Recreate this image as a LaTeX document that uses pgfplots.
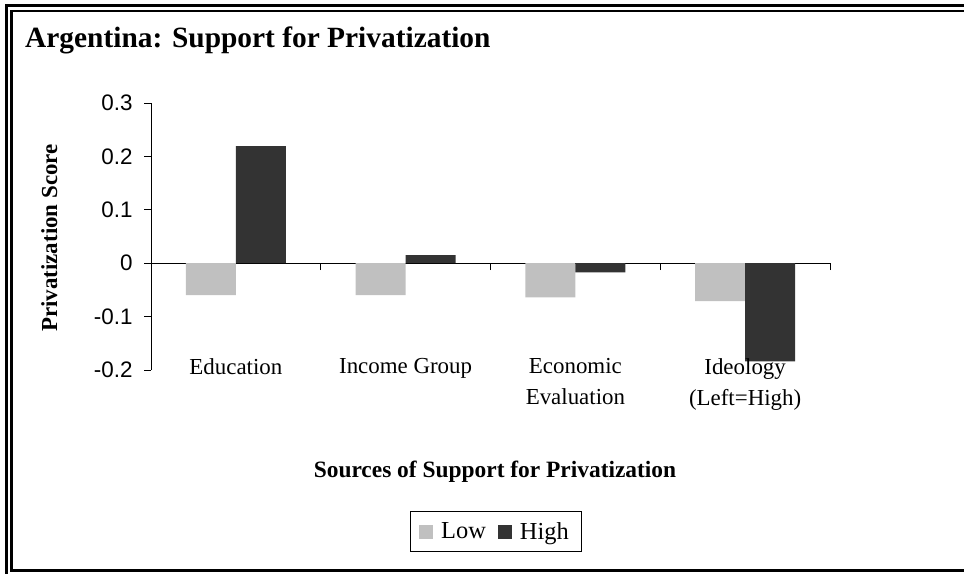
\documentclass[border=0pt]{standalone}
\usepackage{pgfplots}
\pgfplotsset{compat=1.18}
\usepackage{fontspec}
\setmainfont{Liberation Serif}
\newfontfamily\arialfont{Liberation Sans}
\definecolor{lowc}{RGB}{192,192,192}
\definecolor{highc}{RGB}{51,51,51}
\begin{document}
\begin{tikzpicture}[x=1bp,y=1bp]
\useasboundingbox (0,0) rectangle (964,574);
% frame
\draw[line width=2.5bp] (6.5,0) -- (6.5,568.5) -- (964,568.5);
\draw[line width=2.5bp] (11.5,3.5) -- (11.5,563) -- (964,563);
\draw[line width=3bp] (10.25,3.5) -- (964,3.5);
% title and labels
\node[anchor=base west, inner sep=0pt, font=\bfseries\fontsize{29.5}{29.5}\selectfont] at (25,526) {Argentina: Support for Privatization};
\node[anchor=base, inner sep=0pt, font=\bfseries\fontsize{23.5}{23.5}\selectfont] at (495,96) {Sources of Support for Privatization};
\node[rotate=90, anchor=base, inner sep=0pt, font=\bfseries\fontsize{23}{23}\selectfont] at (57,336) {Privatization Score};
\begin{axis}[
  at={(151bp,204bp)}, anchor=south west,
  scale only axis, width=679bp, height=267bp,
  xmin=-0.5, xmax=3.5, ymin=-0.2, ymax=0.3,
  axis y line=left, axis x line=middle,
  axis line style={-, line width=0.8bp, black},
  hide obscured x ticks=false, hide obscured y ticks=false,
  xtick={-0.5,0.5,1.5,2.5,3.5}, xticklabels={},
  ytick={-0.2,-0.1,0,0.1,0.2,0.3},
  yticklabels={-0.2,-0.1,0,0.1,0.2,0.3},
  tick align=outside, major tick length=7bp,
  tick style={line width=0.8bp, black},
  yticklabel style={font=\arialfont\fontsize{22.5}{22.5}\selectfont, xshift=-8bp},
  ybar=0pt, bar width=50bp,
  legend columns=2,
  legend style={at={(axis description cs:0.508,-0.605)}, anchor=center,
    draw=black, line width=0.8bp, font=\fontsize{24.5}{24.5}\selectfont,
    inner xsep=9bp, inner ysep=7bp,
    nodes={inner sep=4bp},
    /tikz/every odd column/.append style={column sep=4bp},
    /tikz/every even column/.append style={column sep=8bp}},
  legend image code/.code={\fill[#1] (0bp,-7bp) rectangle (14bp,7bp);},
  clip=false,
]
\addplot[fill=lowc, draw=none] coordinates {(0,-0.060) (1,-0.060) (2,-0.064) (3,-0.071)};
\addplot[fill=highc, draw=none] coordinates {(0,0.219) (1,0.015) (2,-0.017) (3,-0.184)};
\legend{Low,High}
\begin{scope}[every node/.style={font=\fontsize{23}{31}\selectfont, anchor=north, inner sep=0pt, align=center, yshift=11.5bp}]
\node at (axis cs:0,-0.2) {Education};
\node at (axis cs:1,-0.2) {Income Group};
\node at (axis cs:2,-0.2) {Economic\\Evaluation};
\node at (axis cs:3,-0.2) {Ideology\\(Left=High)};
\end{scope}
\end{axis}
\end{tikzpicture}
\end{document}
